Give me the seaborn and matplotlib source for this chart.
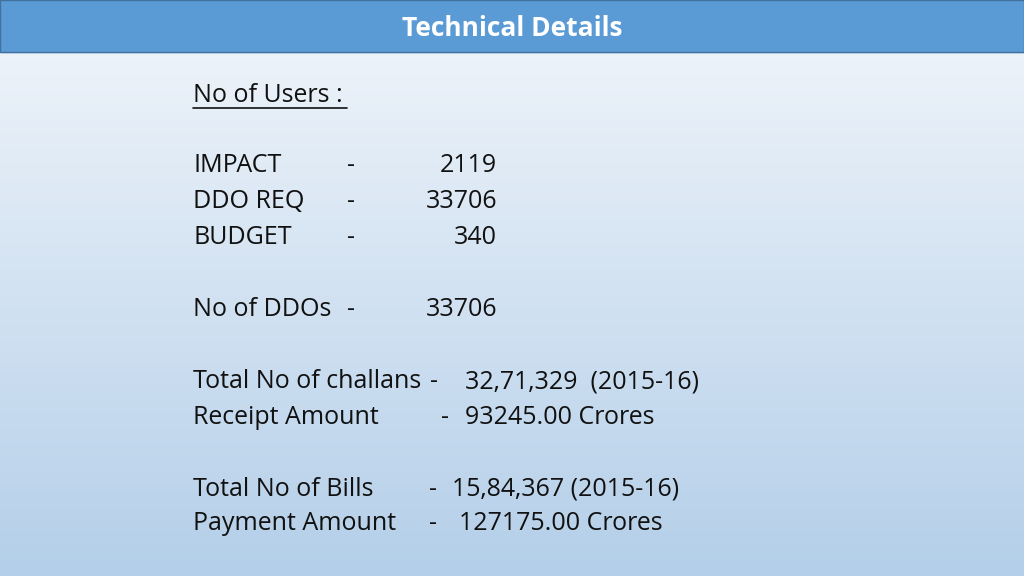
import numpy as np
import matplotlib
matplotlib.use("Agg")
import matplotlib.pyplot as plt
import seaborn as sns

title = "Technical Details"
user_labels = ["IMPACT", "DDO REQ", "BUDGET"]
user_values = ["2119", "33706", "340"]
ddo_label = "No of DDOs"
ddo_value = "33706"
extra_labels = ["Total No of challans", "Receipt Amount", "Total No of Bills", "Payment Amount"]
extra_values = ["32,71,329  (2015-16)", "93245.00 Crores", "15,84,367 (2015-16)", "127175.00 Crores"]

sns.set_style("white")
fig = plt.figure(figsize=(10.24, 5.76), dpi=100)
ax = fig.add_axes([0, 0, 1, 1])
ax.set_xlim(0, 1024); ax.set_ylim(576, 0); ax.axis("off")

top = np.array([0xf2, 0xf6, 0xfb]) / 255
bot = np.array([0xb4, 0xcf, 0xe9]) / 255
t = np.linspace(0, 1, 256)[:, None]
grad = (top * (1 - t) + bot * t)[:, None, :]
ax.imshow(np.repeat(grad, 2, axis=1), extent=[0, 1024, 576, 0], aspect="auto", zorder=0)
ax.add_patch(plt.Rectangle((0, 0), 1024, 52, color="#5b9bd5", zorder=1))
ax.add_patch(plt.Rectangle((0, 0), 1024, 52, fill=False, ec="#41719c", lw=1, zorder=2))
ax.text(512, 28, title, color="white", fontsize=19, fontweight="bold",
        ha="center", va="center", family="Open Sans", zorder=3)

fs = 18
kw = dict(fontsize=fs, va="center", color="#111111", family="Open Sans", zorder=3)
ax.text(193, 95, "No of Users :", **kw)
ax.plot([193, 347], [108, 108], color="#111111", lw=1.2, zorder=3)
for i, (lab, val) in enumerate(zip(user_labels, user_values)):
    y = 166 + 36 * i
    ax.text(193, y, lab, **kw)
    ax.text(347, y, "-", **kw)
    ax.text(497, y, val, ha="right", **kw)
ax.text(193, 310, ddo_label, **kw)
ax.text(347, 310, "-", **kw)
ax.text(497, 310, ddo_value, ha="right", **kw)
dash_x = [430, 441, 429, 429]
val_x = [465, 465, 452, 459]
for y, lab, dx, vx, val in zip([382, 417, 489, 524], extra_labels, dash_x, val_x, extra_values):
    ax.text(193, y, lab, **kw)
    ax.text(dx, y, "-", **kw)
    ax.text(vx, y, val, **kw)

fig.savefig("out.png", dpi=100)
